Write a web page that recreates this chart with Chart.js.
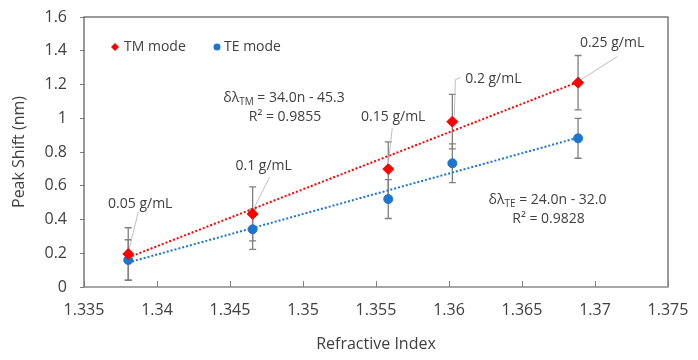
<!DOCTYPE html>
<html>
<head>
<meta charset="utf-8">
<script src="https://cdn.jsdelivr.net/npm/chart.js@4.4.0/dist/chart.umd.min.js"></script>
<style>
    html, body { margin: 0; padding: 0; background: #ffffff; }
    #wrap { width: 698px; height: 360px; }
</style>
</head>
<body>
<div id="wrap"><canvas id="shiftChart" width="698" height="360"></canvas></div>
<script>
// data
const refractiveIndex = [1.33803, 1.34655, 1.35584, 1.36023, 1.36884];
const tmShift = [0.196, 0.433, 0.699, 0.980, 1.211];
const teShift = [0.160, 0.342, 0.521, 0.733, 0.881];
const tmError = [0.155, 0.160, 0.161, 0.161, 0.161];
const teError = [0.120, 0.119, 0.115, 0.115, 0.118];
const concentrations = ['0.05 g/mL', '0.1 g/mL', '0.15 g/mL', '0.2 g/mL', '0.25 g/mL'];

// trendline end points
const trendX = [1.33803, 1.36884];
const tmTrendY = [0.175, 1.215];
const teTrendY = [0.145, 0.885];

// axis ticks
const xTickValues = [1.335, 1.34, 1.345, 1.35, 1.355, 1.36, 1.365, 1.37, 1.375];
const yTickValues = [0, 0.2, 0.4, 0.6, 0.8, 1, 1.2, 1.4, 1.6];

const FONT = '"Open Sans", "Noto Sans", sans-serif';
const TEXT_COLOR = '#404040';
const RED = '#ff0000';
const BLUE = '#1f74cf';

// label placement (pixel offsets from the TM point)
const labelLayout = [
    { dx: 12, dy: -50, path: [[10, -42], [1, -5]] },
    { dx: 11, dy: -48, path: [[17, -37], [1, -5]] },
    { dx: 5, dy: -52, path: [[4, -41], [0, -5]] },
    { dx: 41, dy: -43, path: [[8, -44], [3, -42], [2, -6]] },
    { dx: 34, dy: -40, path: [[39, -26], [3, -3]] }
];

function toPoints(xs, ys) {
    return xs.map((x, i) => ({ x: x, y: ys[i] }));
}

// error bars under the markers
const errorBarPlugin = {
    id: 'errorBars',
    beforeDatasetsDraw(chart) {
        const ctx = chart.ctx;
        const xs = chart.scales.x;
        const ys = chart.scales.y;
        ctx.save();
        ctx.strokeStyle = '#7f7f7f';
        ctx.lineWidth = 1.3;
        [[tmShift, tmError], [teShift, teError]].forEach(([vals, errs]) => {
            vals.forEach((v, i) => {
                const px = xs.getPixelForValue(refractiveIndex[i]);
                const top = ys.getPixelForValue(v + errs[i]);
                const bot = ys.getPixelForValue(v - errs[i]);
                ctx.beginPath();
                ctx.moveTo(px, top); ctx.lineTo(px, bot);
                ctx.moveTo(px - 3.5, top); ctx.lineTo(px + 3.5, top);
                ctx.moveTo(px - 3.5, bot); ctx.lineTo(px + 3.5, bot);
                ctx.stroke();
            });
        });
        ctx.restore();
    }
};

// plot frame and inward x ticks
const framePlugin = {
    id: 'frame',
    afterDraw(chart) {
        const ctx = chart.ctx;
        const a = chart.chartArea;
        const xs = chart.scales.x;
        ctx.save();
        ctx.strokeStyle = '#595959';
        ctx.lineWidth = 1.2;
        ctx.strokeRect(a.left, a.top, a.right - a.left, a.bottom - a.top);
        ctx.strokeStyle = '#a6a6a6';
        ctx.lineWidth = 2;
        ctx.beginPath();
        ctx.moveTo(a.left, a.bottom); ctx.lineTo(a.right, a.bottom);
        ctx.stroke();
        ctx.strokeStyle = '#7f7f7f';
        ctx.lineWidth = 1;
        ctx.beginPath();
        xTickValues.forEach(v => {
            const px = Math.round(xs.getPixelForValue(v)) + 0.5;
            ctx.moveTo(px, a.bottom); ctx.lineTo(px, a.bottom - 6);
        });
        ctx.stroke();
        ctx.restore();
    }
};

// equation with subscript, centred on cx
function drawEquation(ctx, cx, cy, head, sub, tail) {
    ctx.font = '14px ' + FONT;
    const w1 = ctx.measureText(head).width;
    const w3 = ctx.measureText(tail).width;
    ctx.font = '10px ' + FONT;
    const w2 = ctx.measureText(sub).width;
    let x = cx - (w1 + w2 + w3) / 2;
    ctx.textAlign = 'left';
    ctx.textBaseline = 'middle';
    ctx.font = '14px ' + FONT;
    ctx.fillText(head, x, cy);
    x += w1;
    ctx.font = '10px ' + FONT;
    ctx.fillText(sub, x, cy + 4);
    x += w2;
    ctx.font = '14px ' + FONT;
    ctx.fillText(tail, x, cy);
}

// concentration labels, equations and legend
const annotationPlugin = {
    id: 'annotations',
    afterDatasetsDraw(chart) {
        const ctx = chart.ctx;
        const xs = chart.scales.x;
        const ys = chart.scales.y;
        ctx.save();

        // leader lines + labels
        concentrations.forEach((text, i) => {
            const px = xs.getPixelForValue(refractiveIndex[i]);
            const py = ys.getPixelForValue(tmShift[i]);
            const lay = labelLayout[i];
            ctx.strokeStyle = '#bfbfbf';
            ctx.lineWidth = 1;
            ctx.beginPath();
            lay.path.forEach((p, k) => {
                if (k === 0) ctx.moveTo(px + p[0], py + p[1]);
                else ctx.lineTo(px + p[0], py + p[1]);
            });
            ctx.stroke();
            ctx.fillStyle = TEXT_COLOR;
            ctx.font = '14px ' + FONT;
            ctx.textAlign = 'center';
            ctx.textBaseline = 'middle';
            ctx.fillText(text, px + lay.dx, py + lay.dy);
        });

        // trendline equations
        ctx.fillStyle = TEXT_COLOR;
        const tmX = xs.getPixelForValue(1.3487);
        const tmY = ys.getPixelForValue(1.12);
        drawEquation(ctx, tmX, tmY, 'δλ', 'TM', ' = 34.0n - 45.3');
        ctx.font = '14px ' + FONT;
        ctx.textAlign = 'center';
        ctx.fillText('R² = 0.9855', tmX + 1, tmY + 19);

        const teX = xs.getPixelForValue(1.36675);
        const teY = ys.getPixelForValue(0.516);
        drawEquation(ctx, teX, teY, 'δλ', 'TE', ' = 24.0n - 32.0');
        ctx.font = '14px ' + FONT;
        ctx.textAlign = 'center';
        ctx.fillText('R² = 0.9828', teX + 1, teY + 19);

        // legend inside the plot
        const a = chart.chartArea;
        const ly = a.top + 30;
        ctx.fillStyle = RED;
        ctx.beginPath();
        ctx.moveTo(a.left + 31, ly - 4);
        ctx.lineTo(a.left + 35, ly);
        ctx.lineTo(a.left + 31, ly + 4);
        ctx.lineTo(a.left + 27, ly);
        ctx.closePath();
        ctx.fill();
        ctx.fillStyle = BLUE;
        ctx.beginPath();
        ctx.arc(a.left + 133, ly, 3.5, 0, Math.PI * 2);
        ctx.fill();
        ctx.fillStyle = TEXT_COLOR;
        ctx.font = '14px ' + FONT;
        ctx.textAlign = 'left';
        ctx.textBaseline = 'middle';
        ctx.fillText('TM mode', a.left + 40, ly);
        ctx.fillText('TE mode', a.left + 140, ly);

        ctx.restore();
    }
};

function drawShiftChart() {
    const ctx = document.getElementById('shiftChart').getContext('2d');
    window.shiftChart = new Chart(ctx, {
        type: 'scatter',
        data: {
            datasets: [
                {
                    label: 'TM trend',
                    type: 'line',
                    data: toPoints(trendX, tmTrendY),
                    borderColor: RED,
                    borderWidth: 2,
                    borderDash: [2, 2],
                    pointRadius: 0,
                    fill: false,
                    order: 0
                },
                {
                    label: 'TE trend',
                    type: 'line',
                    data: toPoints(trendX, teTrendY),
                    borderColor: BLUE,
                    borderWidth: 2,
                    borderDash: [2, 2],
                    pointRadius: 0,
                    fill: false,
                    order: 0
                },
                {
                    label: 'TM mode',
                    data: toPoints(refractiveIndex, tmShift),
                    pointStyle: 'rectRot',
                    pointRadius: 5.5,
                    backgroundColor: RED,
                    borderColor: RED,
                    borderWidth: 1,
                    order: 1
                },
                {
                    label: 'TE mode',
                    data: toPoints(refractiveIndex, teShift),
                    pointStyle: 'circle',
                    pointRadius: 4.5,
                    backgroundColor: BLUE,
                    borderColor: BLUE,
                    borderWidth: 1,
                    order: 1
                }
            ]
        },
        options: {
            responsive: false,
            animation: false,
            layout: { padding: { top: 17, right: 30, left: 0, bottom: 0 } },
            plugins: {
                legend: { display: false },
                tooltip: { enabled: false }
            },
            scales: {
                x: {
                    type: 'linear',
                    min: 1.335,
                    max: 1.375,
                    afterBuildTicks: scale => { scale.ticks = xTickValues.map(v => ({ value: v })); },
                    afterFit: scale => {
                        scale.height = 73;
                        scale.paddingLeft = 0;
                        scale.paddingRight = 0;
                    },
                    grid: { display: false, drawTicks: false },
                    border: { display: false },
                    ticks: {
                        color: TEXT_COLOR,
                        font: { family: FONT, size: 16 },
                        padding: 14,
                        maxRotation: 0,
                        callback: v => parseFloat(v.toFixed(3)).toString()
                    },
                    title: {
                        display: true,
                        text: 'Refractive Index',
                        color: TEXT_COLOR,
                        font: { family: FONT, size: 16 },
                        padding: { top: 0, bottom: 6 }
                    }
                },
                y: {
                    type: 'linear',
                    min: 0,
                    max: 1.6,
                    afterBuildTicks: scale => { scale.ticks = yTickValues.map(v => ({ value: v })); },
                    afterFit: scale => {
                        scale.width = 84;
                        scale.paddingTop = 0;
                        scale.paddingBottom = 0;
                    },
                    grid: {
                        drawOnChartArea: false,
                        drawTicks: true,
                        tickLength: 4,
                        tickColor: '#7f7f7f'
                    },
                    border: { display: false },
                    ticks: {
                        color: TEXT_COLOR,
                        font: { family: FONT, size: 16 },
                        padding: 13,
                        callback: v => parseFloat(v.toFixed(1)).toString()
                    },
                    title: {
                        display: true,
                        text: 'Peak Shift (nm)',
                        color: TEXT_COLOR,
                        font: { family: FONT, size: 16 },
                        padding: { top: 10, bottom: 0 }
                    }
                }
            }
        },
        plugins: [errorBarPlugin, annotationPlugin, framePlugin]
    });
}

document.addEventListener('DOMContentLoaded', drawShiftChart);
</script>
</body>
</html>
